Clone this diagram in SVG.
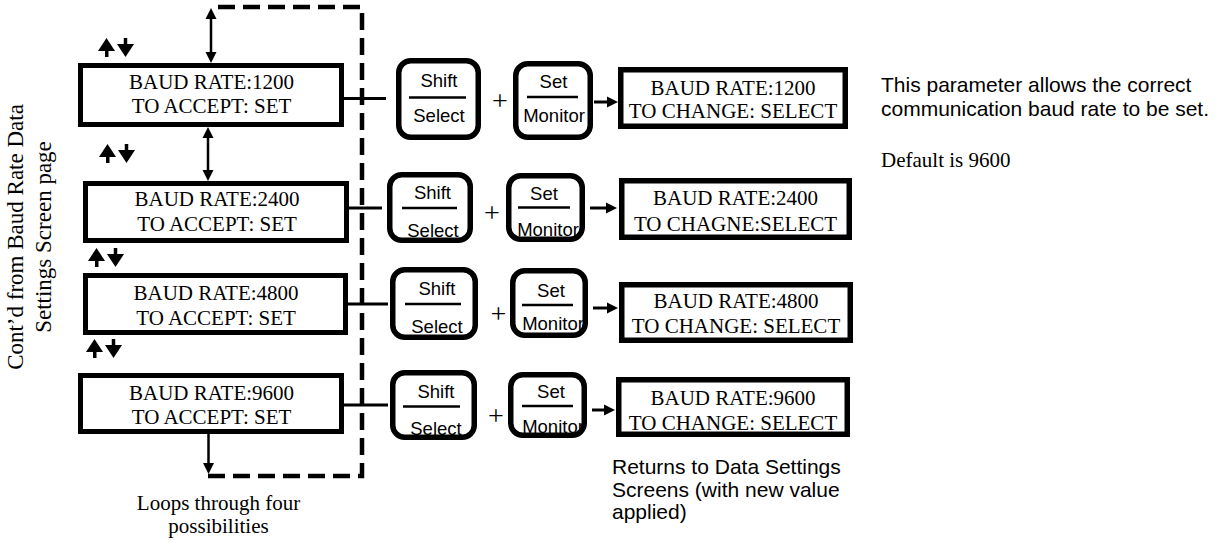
<svg xmlns="http://www.w3.org/2000/svg" width="1220" height="542" viewBox="0 0 1220 542">
<style>
.bg{fill:#fff}
.box{fill:#fff;stroke:#000;stroke-width:5}
.rbox{fill:#fff;stroke:#000;stroke-width:5.5}
.btn{fill:#fff;stroke:#000;stroke-width:5.5}
.div{stroke:#000;stroke-width:2.5}
.serif{font-family:"Liberation Serif","Times New Roman",serif;fill:#000}
.sans{font-family:"Liberation Sans",Arial,sans-serif;fill:#000}
.bt{font-size:21px;text-anchor:middle}
.kt{font-size:18.5px;text-anchor:middle}
.plus{font-size:28px;text-anchor:middle}
.conn{stroke:#000;stroke-width:3;fill:none}
.arr{stroke:#000;stroke-width:2.5;fill:none}
.dash{stroke:#000;stroke-width:4.5;fill:none;stroke-dasharray:17 8}
.ico{fill:#000}
</style>
<defs>
<marker id="ah" viewBox="0 0 10 10" refX="5" refY="5" markerWidth="11" markerHeight="12" markerUnits="userSpaceOnUse" orient="auto-start-reverse">
<path d="M0,0 L10,5 L0,10 z" fill="#000"/>
</marker>
<g id="updown">
<polygon points="0,13 8.5,0 17,13"/>
<rect x="7" y="12" width="3.5" height="7"/>
<polygon points="19,6 36,6 27.5,19"/>
<rect x="25.75" y="0" width="3.5" height="7"/>
</g>
</defs>
<rect class="bg" x="0" y="0" width="1220" height="542"/>

<g id="side-label" class="serif" style="font-size:23px;text-anchor:middle">
<text transform="rotate(-90)" x="-237" y="23">Cont’d from Baud Rate Data</text>
<text transform="rotate(-90)" x="-237" y="50.5">Settings Screen page</text>
</g>

<g id="icons" class="ico">
<use href="#updown" x="98" y="38"/>
<use href="#updown" x="99" y="144"/>
<use href="#updown" x="88" y="248"/>
<use href="#updown" x="86" y="339"/>
</g>

<g id="connectors">
<path class="dash" d="M208,476 H362 V7 H214"/>
<line class="arr" x1="211" y1="13.5" x2="211" y2="57.5" marker-start="url(#ah)" marker-end="url(#ah)"/>
<line class="arr" x1="208" y1="132.5" x2="208" y2="175.5" marker-start="url(#ah)" marker-end="url(#ah)"/>
<line class="arr" x1="208.5" y1="434" x2="208.5" y2="468.5" marker-end="url(#ah)"/>
<line class="conn" x1="344" y1="98.5" x2="386" y2="98.5"/>
<line class="conn" x1="342" y1="208" x2="382" y2="208"/>
<line class="conn" x1="348" y1="304" x2="388" y2="304"/>
<line class="conn" x1="344" y1="405" x2="388" y2="405"/>
<line class="conn" x1="594" y1="102" x2="612.5" y2="102" marker-end="url(#ah)"/>
<line class="conn" x1="590" y1="208" x2="611.5" y2="208" marker-end="url(#ah)"/>
<line class="conn" x1="593" y1="308" x2="612.5" y2="308" marker-end="url(#ah)"/>
<line class="conn" x1="592" y1="410" x2="609.5" y2="410" marker-end="url(#ah)"/>
</g>

<g id="accept-1200">
<rect class="box" x="80.5" y="65.5" width="261" height="59"/>
<text class="serif bt" x="211.5" y="89">BAUD RATE:1200</text>
<text class="serif bt" x="211.5" y="113">TO ACCEPT: SET</text>
</g>
<g id="accept-2400">
<rect class="box" x="85.5" y="183.5" width="261" height="57"/>
<text class="serif bt" x="217" y="205.5">BAUD RATE:2400</text>
<text class="serif bt" x="217" y="230.5">TO ACCEPT: SET</text>
</g>
<g id="accept-4800">
<rect class="box" x="85.5" y="275.5" width="260" height="57"/>
<text class="serif bt" x="216" y="300">BAUD RATE:4800</text>
<text class="serif bt" x="216" y="325">TO ACCEPT: SET</text>
</g>
<g id="accept-9600">
<rect class="box" x="80.5" y="375.5" width="261" height="56"/>
<text class="serif bt" x="211.5" y="400">BAUD RATE:9600</text>
<text class="serif bt" x="211.5" y="424">TO ACCEPT: SET</text>
</g>

<g id="shift-1">
<rect class="btn" x="398.75" y="60.75" width="79.5" height="76.5" rx="12"/>
<text class="sans kt" x="439" y="86.5">Shift</text>
<line class="div" x1="409" y1="97.5" x2="466" y2="97.5"/>
<text class="sans kt" x="439" y="121.5">Select</text>
</g>
<g id="set-1">
<rect class="btn" x="515.75" y="63.75" width="74.5" height="73.5" rx="12"/>
<text class="sans kt" x="553.5" y="88">Set</text>
<line class="div" x1="527" y1="97" x2="578" y2="97"/>
<text class="sans kt" x="554" y="121.5">Monitor</text>
</g>
<g id="shift-2">
<rect class="btn" x="389.75" y="174.75" width="80.5" height="65.5" rx="12"/>
<text class="sans kt" x="432.5" y="198.5">Shift</text>
<line class="div" x1="402" y1="208" x2="457" y2="208"/>
<text class="sans kt" x="433" y="237">Select</text>
</g>
<g id="set-2">
<rect class="btn" x="508.75" y="175.75" width="73.5" height="63.5" rx="12"/>
<text class="sans kt" x="544" y="200">Set</text>
<line class="div" x1="518" y1="207.5" x2="570" y2="207.5"/>
<text class="sans kt" x="548" y="236">Monitor</text>
</g>
<g id="shift-3">
<rect class="btn" x="392.75" y="269.75" width="82.5" height="67.5" rx="12"/>
<text class="sans kt" x="437" y="295">Shift</text>
<line class="div" x1="405" y1="304" x2="461" y2="304"/>
<text class="sans kt" x="437" y="332.5">Select</text>
</g>
<g id="set-3">
<rect class="btn" x="512.75" y="270.75" width="72.5" height="64.5" rx="12"/>
<text class="sans kt" x="551" y="296.5">Set</text>
<line class="div" x1="522" y1="305" x2="573" y2="305"/>
<text class="sans kt" x="553" y="330">Monitor</text>
</g>
<g id="shift-4">
<rect class="btn" x="392.75" y="372.75" width="81.5" height="64.5" rx="12"/>
<text class="sans kt" x="436" y="398">Shift</text>
<line class="div" x1="403" y1="406.5" x2="460" y2="406.5"/>
<text class="sans kt" x="436" y="435">Select</text>
</g>
<g id="set-4">
<rect class="btn" x="510.75" y="374.75" width="73.5" height="60.5" rx="12"/>
<text class="sans kt" x="551" y="398">Set</text>
<line class="div" x1="522" y1="406" x2="573" y2="406"/>
<text class="sans kt" x="553" y="433">Monitor</text>
</g>

<g id="plus-signs" class="serif plus">
<text x="500" y="110">+</text>
<text x="492" y="222">+</text>
<text x="498.5" y="323">+</text>
<text x="496" y="425">+</text>
</g>

<g id="change-1200">
<rect class="rbox" x="620.75" y="69.75" width="224.5" height="56.5"/>
<text class="serif bt" x="733" y="95">BAUD RATE:1200</text>
<text class="serif bt" x="733" y="118">TO CHANGE: SELECT</text>
</g>
<g id="change-2400">
<rect class="rbox" x="621.75" y="180.75" width="227.5" height="56.5"/>
<text class="serif bt" x="735.5" y="205">BAUD RATE:2400</text>
<text class="serif bt" x="735.5" y="230.5">TO CHAGNE:SELECT</text>
</g>
<g id="change-4800">
<rect class="rbox" x="621.75" y="284.75" width="228.5" height="55.5"/>
<text class="serif bt" x="736" y="308">BAUD RATE:4800</text>
<text class="serif bt" x="736" y="333">TO CHANGE: SELECT</text>
</g>
<g id="change-9600">
<rect class="rbox" x="618.75" y="379.75" width="228.5" height="54.5"/>
<text class="serif bt" x="733" y="405">BAUD RATE:9600</text>
<text class="serif bt" x="733" y="430">TO CHANGE: SELECT</text>
</g>

<g id="notes">
<text class="serif" style="font-size:21px;text-anchor:middle" x="218.5" y="510">Loops through four</text>
<text class="serif" style="font-size:21px;text-anchor:middle" x="218.5" y="532.5">possibilities</text>
<text class="sans" style="font-size:21px" x="612" y="474">Returns to Data Settings</text>
<text class="sans" style="font-size:21px" x="612" y="496.5">Screens (with new value</text>
<text class="sans" style="font-size:21px" x="612" y="519">applied)</text>
<text class="sans" style="font-size:21px" x="881" y="91.5">This parameter allows the correct</text>
<text class="sans" style="font-size:21px" x="881" y="116">communication baud rate to be set.</text>
<text class="serif" style="font-size:21px" x="881" y="166.5">Default is 9600</text>
</g>
</svg>
